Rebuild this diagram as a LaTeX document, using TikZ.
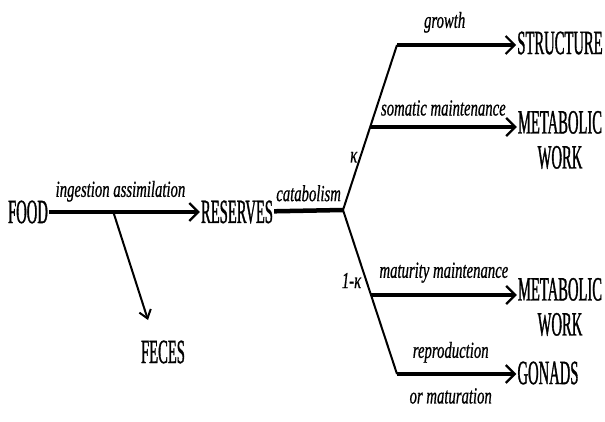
\documentclass[tikz,border=0pt]{standalone}
\usepackage{fontspec}
\newfontfamily\poolfont{Liberation Serif}[FakeStretch=0.43,FakeBold=0.9]
\newfontfamily\fluxfont{Liberation Serif}[FakeStretch=0.64,FakeBold=0.7]
\usetikzlibrary{arrows.meta,positioning}
\tikzset{%
	pool/.style     = {font=\poolfont\fontsize{34}{35}\selectfont, inner sep=1pt, align=center}, % compartment
	flux/.style     = {font=\fluxfont\itshape\fontsize{23}{24}\selectfont, inner sep=1pt}, % process label
	flow/.style     = {line width=4.5pt, -{Straight Barb[length=9pt,width=18pt,line width=2.2pt]}},
	trunk/.style    = {line width=4.5pt},
	branch/.style   = {line width=2pt},
	loss/.style     = {line width=2pt, -{Straight Barb[length=8pt,width=12pt,line width=2pt]}},
	waypoint/.style = {coordinate},
}
\begin{document}
\begin{tikzpicture}[x=1pt,y=-1pt]
	\useasboundingbox (0,0) rectangle (605,422);
	% compartments
	\node[pool] (food) at (28,212) {FOOD};
	\node[pool] (res) at (237,212) {RESERVES};
	\node[pool] (feces) at (163,352) {FECES};
	\node[pool] (struct) at (560,43) {STRUCTURE};
	\node[pool] (work1) at (560,140) {METABOLIC\\WORK};
	\node[pool] (work2) at (560,307) {METABOLIC\\WORK};
	\node[pool] (gonads) at (548,373) {GONADS};
	% branch points
	\node[waypoint] (fx) at (113,211) {};
	\node[waypoint] (fe) at (148,320) {};
	\node[waypoint] (cat) at (343,210) {};
	\node[waypoint] (g0) at (397,45) {};
	\node[waypoint] (s0) at (370,127) {};
	\node[waypoint] (m0) at (371,295) {};
	\node[waypoint] (r0) at (397,374) {};
	% fluxes
	\draw[flow] (food) -- node[flux,above=7pt,xshift=-4pt] {ingestion assimilation} (res);
	\draw[loss] (fx) -- (fe);
	\draw[trunk] (res) -- node[flux,above=6pt] {catabolism} (cat);
	\draw[branch] (cat) -- node[flux,pos=0.32,left=1pt] {κ} (g0);
	\draw[branch] (cat) -- node[flux,pos=0.43,left=3pt] {1-κ} (r0);
	\draw[flow] (g0) -- node[flux,above=9pt,pos=0.4] {growth} (g0 -| struct.west);
	\draw[flow] (s0) -- node[flux,above=8pt] {somatic maintenance} (s0 -| work1.west);
	\draw[flow] (m0) -- node[flux,above=9pt] {maturity maintenance} (m0 -| work2.west);
	\draw[flow] (r0) -- node[flux,above=8pt,pos=0.45] {reproduction}
		node[flux,below=11pt,pos=0.45] {or maturation} (r0 -| gonads.west);
\end{tikzpicture}
\end{document}
